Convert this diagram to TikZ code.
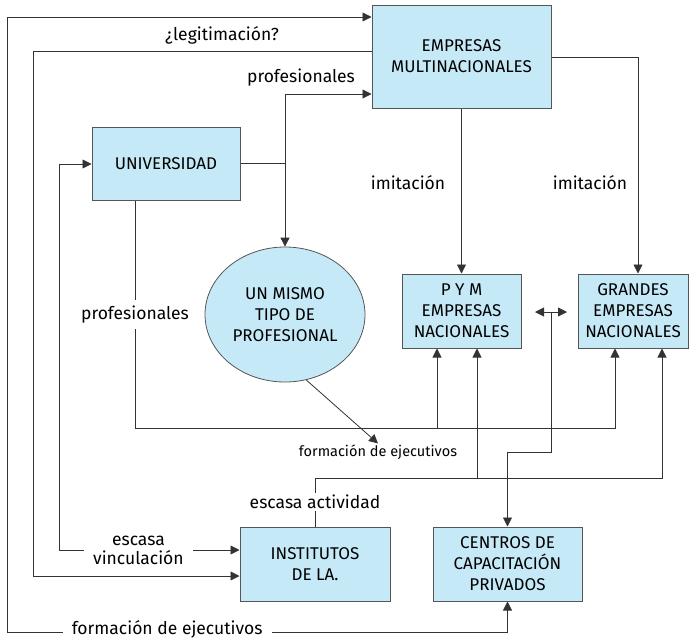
\documentclass[tikz,border=0pt]{standalone}
\usepackage{fontspec}
\setmainfont{Fira Sans}
\usetikzlibrary{arrows.meta,shapes.geometric}
\definecolor{boxfill}{HTML}{C5E9F7}
\definecolor{boxdraw}{HTML}{555555}
\definecolor{linec}{HTML}{333333}
\tikzset{
  box/.style={draw=boxdraw, line width=1pt, fill=boxfill, rectangle, align=center, inner sep=0pt,
    font=\fontsize{17}{21}\selectfont},
  ellbox/.style={draw=boxdraw, line width=0.8pt, fill=boxfill, ellipse, align=center, inner sep=0pt,
    font=\fontsize{17}{21}\selectfont},
  conn/.style={draw=linec, line width=0.8pt},
  arr/.style={conn, -{Triangle[length=9pt,width=9pt]}},
  both/.style={conn, {Triangle[length=9pt,width=9pt]}-{Triangle[length=9pt,width=9pt]}},
  lbl/.style={font=\fontsize{17.5}{19}\selectfont, inner sep=1pt, align=center},
  gaplbl/.style={lbl, fill=white, inner xsep=9pt, inner ysep=4pt},
  small/.style={font=\fontsize{14.5}{16}\selectfont, inner sep=1pt}
}
\begin{document}
\begin{tikzpicture}[x=1pt,y=-1pt]
\useasboundingbox (0,0) rectangle (690,641);
% nodes
\node[box, minimum width=179pt, minimum height=103pt] (emp) at (461.5,56.5) {EMPRESAS\\MULTINACIONALES};
\node[box, minimum width=148pt, minimum height=73pt] (uni) at (166,163.5) {UNIVERSIDAD};
\node[ellbox, minimum width=160pt, minimum height=135pt] (ell) at (285,314.5) {UN MISMO\\TIPO DE\\PROFESIONAL};
\node[box, minimum width=119pt, minimum height=74pt] (pym) at (461.5,311) {P Y M\\EMPRESAS\\NACIONALES};
\node[box, minimum width=110pt, minimum height=74pt] (gra) at (633,311) {GRANDES\\EMPRESAS\\NACIONALES};
\node[box, minimum width=150pt, minimum height=74pt] (inst) at (315,564) {INSTITUTOS\\DE LA.};
\node[box, minimum width=149pt, minimum height=74pt] (cen) at (507.5,564) {CENTROS DE\\CAPACITACIÓN\\PRIVADOS};
\node[small] (fe) at (378,452) {formación de ejecutivos};
% coordinates
\coordinate (dl) at (535,312);
\coordinate (dr) at (567,312);

% outermost loop: formación de ejecutivos
\draw[both] (emp.west |- 0,17) -- (7,17) -- (7,632) -- node[gaplbl, pos=0.32, inner ysep=0pt, yshift=2.5pt] {formación de ejecutivos} (cen.south |- 0,632) -- (cen.south);
% legitimación
\draw[arr] (emp.west |- 0,51) -- (33,51) -- (33,576) -- (inst.west |- 0,576);
\node[lbl] (leg) at (222,35) {¿legitimación?};
% escasa vinculación
\draw[both] (uni.west |- 0,164) -- (59,164) -- (59,550) -- node[gaplbl, pos=0.44, inner ysep=2pt] {escasa\\vinculación} (inst.west |- 0,550);
% profesionales top
\draw[arr] (uni.east) -| (ell.north);
\draw[arr] (ell.north |- uni.east) |- (emp.west |- 0,94);
\node[lbl] (prof1) at (301,78) {profesionales};
% imitación
\draw[arr] (emp.south) -- (pym.north);
\node[lbl] (im1) at (408,183) {imitación};
\draw[arr] (emp.east |- 0,57) -| ([xshift=5pt]gra.north);
\node[lbl] (im2) at (590,183) {imitación};
% profesionales from universidad
\draw[arr] (uni.south -| 135,0) -- node[gaplbl, pos=0.5, inner ysep=6pt] (prof2) {profesionales} (135,428) -| ([xshift=-18pt]gra.south);
\draw[arr] (437,428) -- (pym.south -| 437,0);
% ellipse to formación de ejecutivos
\draw[arr] (ell.-72) -- (fe.north);
% escasa actividad
\draw[arr] (inst.north) -- node[gaplbl, pos=0.5, inner ysep=2pt] (esc) {escasa actividad} (315,478) -| ([xshift=29pt]gra.south);
\draw[arr] (477,478) -- (pym.south -| 477,0);
% double arrow and link to centros
\draw[both] (dl) -- (dr);
\draw[arr] (551,312) -- (551,452) -| (cen.north);
\end{tikzpicture}
\end{document}
